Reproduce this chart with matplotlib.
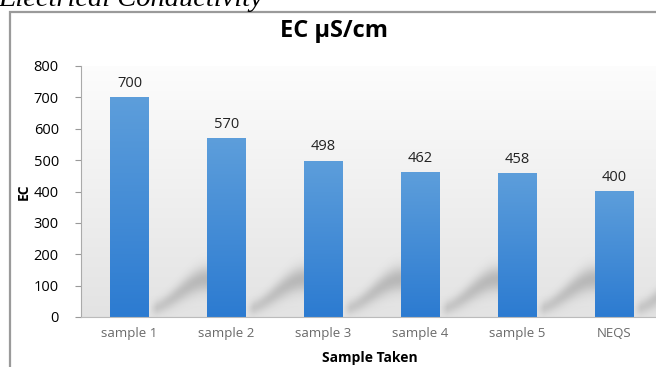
import numpy as np
import matplotlib.pyplot as plt
from matplotlib.patches import Rectangle
from matplotlib.colors import LinearSegmentedColormap

# --- Dati ---
samples = ['sample 1', 'sample 2', 'sample 3', 'sample 4', 'sample 5', 'NEQS']
ec_values = [700, 570, 498, 462, 458, 400]
y_ticks = [0, 100, 200, 300, 400, 500, 600, 700, 800]

W, H = 656, 367
BAR_W = 0.40

fig = plt.figure(figsize=(W / 100, H / 100), dpi=100)
fig.patch.set_facecolor('white')

# cornice del grafico (bordo grigio, tagliato a destra)
frame = Rectangle((10 / W, -0.01), 0.99, (H - 12) / H + 0.01, transform=fig.transFigure,
                  fill=False, edgecolor='#9a9a9a', linewidth=1.6, zorder=0)
fig.patches.append(frame)

# titolo in corsivo tagliato in alto
fig.text(-2 / W, 1.0 + 1 / H, 'Electrical Conductivity', family='Liberation Serif',
         style='italic', fontsize=20.5, ha='left', va='center', color='black')

ax = fig.add_axes([81 / W, 50 / H, 582 / W, 251 / H])
n = len(samples)
x = np.arange(n)

# sfondo sfumato dell'area del grafico (chiaro in alto, grigio in basso)
bg = np.linspace(0.89, 0.99, 200).reshape(-1, 1)
ax.imshow(np.dstack([bg, bg, bg]), extent=(-0.5, n - 0.5, 0, 800), origin='lower',
          aspect='auto', zorder=0, interpolation='bicubic')

# ombre diagonali dietro le barre
gx = np.linspace(-0.5, n - 0.5, 600)
gy = np.linspace(0, 800, 400)
GX, GY = np.meshgrid(gx, gy)
alpha = np.zeros_like(GX)
for i in range(n):
    xr, xl = i + BAR_W / 2, i + 1 - BAR_W / 2
    t = np.clip((GX - xr) / (xl - xr), 0, 1)
    s = t * t * (3 - 2 * t)
    yc = 25 + 95 * s
    hw = 22 + 18 * s
    inside = (GX >= xr - 0.02) & (GX <= xl + 0.1)
    fade = np.clip((GX - xr) / 0.08, 0, 1)
    a = np.exp(-((GY - yc) / hw) ** 2) * fade * 0.4 * (0.6 + 0.4 * s)
    alpha = np.maximum(alpha, np.where(inside, a, 0))
shadow = np.zeros(GX.shape + (4,))
shadow[..., :3] = 0.45
shadow[..., 3] = alpha
ax.imshow(shadow, extent=(-0.5, n - 0.5, 0, 800), origin='lower', aspect='auto',
          zorder=1, interpolation='bilinear')

# barre con gradiente verticale
cmap = LinearSegmentedColormap.from_list('blu', ['#2c7bd1', '#5d9edb'])
grad = np.linspace(0, 1, 256).reshape(-1, 1)
bars = ax.bar(x, ec_values, width=BAR_W, color='none', edgecolor='none', zorder=2)
for b, v in zip(bars, ec_values):
    im = ax.imshow(grad, extent=(b.get_x(), b.get_x() + b.get_width(), 0, v),
                   origin='lower', aspect='auto', cmap=cmap, zorder=2)
    im.set_clip_path(b)
    ax.text(b.get_x() + b.get_width() / 2, v + 20, str(v), ha='center', va='bottom',
            fontsize=10.5, family='Open Sans', color='#222222')

ax.set_xlim(-0.5, n - 0.5)
ax.set_ylim(0, 800)
ax.set_xticks(x)
ax.set_xticklabels(samples, fontsize=9.5, family='Open Sans', color='#6a6a6a')
ax.set_yticks(y_ticks)
ax.set_yticklabels([str(v) for v in y_ticks], fontsize=10.5, family='Open Sans')
ax.tick_params(axis='x', length=0, pad=7)
ax.tick_params(axis='y', length=4, color='#999999', pad=12)
for side in ['top', 'right']:
    ax.spines[side].set_visible(False)
ax.spines['left'].set_color('#aaaaaa')
ax.spines['bottom'].set_color('#bbbbbb')

ax.set_ylabel('EC', fontsize=10, fontweight='bold', family='Open Sans', labelpad=2)
fig.text(370 / W, 1 - 358 / H, 'Sample Taken', fontsize=10, fontweight='bold',
         family='Open Sans', ha='center', va='center')
fig.text(334 / W, 1 - 31 / H, 'EC µS/cm', fontsize=17, fontweight='bold',
         family='Open Sans', ha='center', va='center')

fig.savefig('out.png', dpi=100)
